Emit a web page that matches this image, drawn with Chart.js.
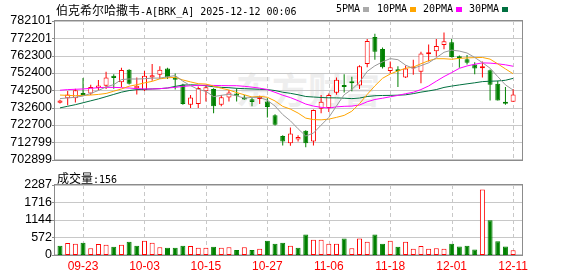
<!DOCTYPE html>
<html><head><meta charset="utf-8">
<script src="https://cdn.jsdelivr.net/npm/chart.js@4.4.1/dist/chart.umd.min.js"></script>
<style>
html,body{margin:0;padding:0;background:#fff;width:578px;height:276px;overflow:hidden;position:relative}
canvas{position:absolute;left:0}
#c1{top:0}
#c2{top:170px}
.t{position:absolute;white-space:nowrap;color:#000;line-height:1}
.cjk{font-family:"Noto Sans CJK SC";font-size:12px}
.lat{font-family:"DejaVu Sans Mono";font-size:10px}
.sq{position:absolute;width:6px;height:5px}
#wm{position:absolute;left:236px;top:70px;font-family:"Noto Sans CJK SC";font-size:36px;font-weight:bold;color:#eeeeee;line-height:1;white-space:nowrap}
</style></head><body>
<div id="wm">东方财富</div>
<canvas id="c1" width="578" height="170"></canvas>
<canvas id="c2" width="578" height="106"></canvas>
<div class="t" style="left:56px;top:2px"><span class="cjk">伯克希尔哈撒韦</span><span class="lat">-A[BRK_A] 2025-12-12 00:06</span></div>
<div class="t lat" style="left:336px;top:4px">5PMA</div><div class="sq" style="left:363px;top:7px;background:#aaaaaa"></div>
<div class="t lat" style="left:377px;top:4px">10PMA</div><div class="sq" style="left:410px;top:7px;background:#ffa500"></div>
<div class="t lat" style="left:423px;top:4px">20PMA</div><div class="sq" style="left:456px;top:7px;background:#ff00ff"></div>
<div class="t lat" style="left:469px;top:4px">30PMA</div><div class="sq" style="left:502px;top:7px;background:#007040"></div>
<div class="t" style="left:57px;top:170px"><span class="cjk">成交量</span><span class="lat">:156</span></div>
<script>
const dates = ['09-18','09-19','09-22','09-23','09-24','09-25','09-26','09-29','09-30','10-01','10-02','10-03','10-06','10-07','10-08','10-09','10-10','10-13','10-14','10-15','10-16','10-17','10-20','10-21','10-22','10-23','10-24','10-27','10-28','10-29','10-30','10-31','11-03','11-04','11-05','11-06','11-07','11-10','11-11','11-12','11-13','11-14','11-17','11-18','11-19','11-20','11-21','11-24','11-25','11-26','11-28','12-01','12-02','12-03','12-04','12-05','12-08','12-09','12-10','12-11'];
const opens  = [735350,737918,737918,740485,740668,743785,745068,750752,747085,754235,743601,742501,749835,751302,754969,749835,745801,734252,734619,741951,743235,734252,738285,740668,738285,737368,737552,736085,728202,716284,712251,714267,719401,713167,731868,732419,741035,745251,747085,745251,757534,772934,766151,753502,753868,749835,754969,753135,763034,764867,768351,770001,761751,760284,757168,755152,753868,746168,735352,735902];
const highs  = [737100,742134,743418,749468,745618,748368,753135,751668,755335,754500,749835,753502,757534,756251,755335,752035,746168,739752,744701,745251,743600,739752,742501,743601,739752,738468,739385,737918,728752,716834,721235,716834,719584,731502,739752,740668,749835,751668,750202,756801,771834,774767,766884,759001,756251,756618,759917,764501,768718,771834,775501,771834,762301,762668,758451,759001,754418,748001,744334,743235];
const lows   = [734900,733886,735535,739500,739752,742501,743235,743418,744334,745800,740118,742134,748001,748918,748918,742868,734252,732419,732419,736085,729302,733335,736085,736085,737001,733335,734619,726918,722335,710967,710784,713167,709867,710967,729302,730035,739935,741218,741951,743235,755702,759917,754969,752218,744334,749468,751302,746535,759001,761751,765968,761201,755335,757168,751668,749835,736635,736635,734252,735902];
const closes = [736630,740118,742501,739752,744334,745251,749835,749468,754052,746168,745068,750752,751118,754235,749835,748552,734619,738285,743785,744151,733335,738468,741218,739385,737185,735718,738468,732969,722702,713167,717751,715734,712251,731135,735902,739752,748552,744334,746535,756251,770734,764501,755702,755702,753318,754969,755335,763584,763768,767801,770551,761568,760834,758268,754969,755885,745618,736635,734802,740118];
const volumes = [301,390,368,402,223,357,335,268,335,435,301,469,402,257,234,234,301,290,234,234,268,234,257,167,257,167,201,469,368,402,301,234,670,502,502,368,368,536,223,536,435,670,368,469,268,435,201,290,201,223,201,368,279,301,179,2143,1138,446,279,156];
const volumeRise = [0,1,1,0,1,1,1,0,1,0,0,1,1,1,0,0,0,1,1,1,0,1,1,0,1,0,1,0,0,0,1,0,0,1,1,1,1,0,1,1,1,0,0,1,0,1,1,1,1,1,1,0,0,0,0,1,0,0,0,1];
const ma5  = [737735,738101,738468,739201,740668,742391,744335,745728,748588,748954,748918,749101,749431,749468,750201,750898,747671,745105,743015,741878,738835,739605,740191,739311,737955,738431,738431,736781,733445,728605,725012,720465,716322,718008,722555,726955,733518,739935,743015,747085,753281,756471,758744,760578,759991,756838,755004,756581,758194,761091,764208,765454,764904,763804,761238,758304,755114,750274,745581,742611];
const ma10 = [739751,739568,739385,739568,739751,740118,740668,741951,743235,744811,745654,746718,747579,749028,749578,749908,748386,747268,746241,746040,744866,743638,742648,741163,739916,738633,739018,738486,736378,733280,731721,729448,726552,725727,725580,725983,726992,728128,730512,734820,740118,744995,749339,751796,753538,755059,755738,757663,759386,760541,760523,760229,760743,760999,761164,761256,760284,757589,754711,751943];
const ma20 = [742501,742868,743051,743235,743601,743968,744151,744151,743968,743785,743418,743235,743235,743418,743785,744151,744701,745068,745251,745425,745260,745178,745114,745095,744747,744271,743702,742877,741310,739660,738294,736543,734600,733445,732748,732308,733005,733307,733445,734050,735920,737221,737946,738761,739559,740521,741365,742896,744949,747680,750321,752612,755041,756398,757351,758158,758011,757626,757040,756233];
const ma30 = [732418,733335,734251,735351,736451,737551,738835,740118,741401,742318,742868,743051,743235,743418,743785,744701,745435,745618,745435,745068,744518,744151,743968,743601,743418,743235,743051,742868,742318,741383,740741,739935,738926,738633,738358,738175,738138,737955,737716,738046,738908,739366,739513,739568,739678,739898,740576,741420,742098,742886,744115,744885,745545,746168,746755,747433,747671,747799,748203,749285];
const priceTicks = [702899,712799,722700,732600,742500,752400,762300,772201,782101];
const volumeTicks = [0,572,1144,1716,2287];
const labelIndex = [3,11,19,27,35,43,51,59];

const RED = '#ff0000', GRN = '#008000';
const X_MIN = -0.651, X_MAX = 60.156;
const rise = closes.map((c, i) => c >= opens[i]);
const pts = arr => arr.map((v, i) => ({x: i, y: v}));

// grid lines and frame, placed through the chart's own scales
const gridPlugin = {id: 'gridframe',
  beforeDatasetsDraw(ch) {
    const a = ch.chartArea, c = ch.ctx, ys = ch.scales.y, xs = ch.scales.x;
    const L = Math.round(a.left), R = Math.round(a.right), T = Math.round(a.top), B = Math.round(a.bottom);
    c.save();
    c.fillStyle = '#c8c8c8';
    ys.ticks.forEach(t => { const y = Math.round(ys.getPixelForValue(t.value)); c.fillRect(L, Math.min(y, B - 1), R - L, 1); });
    xs.ticks.forEach(t => {
      const x = Math.round(xs.getPixelForValue(t.value));
      for (let y = T; y < B; y += 7) c.fillRect(x, y, 1, Math.min(4, B - y));
    });
    c.restore();
  },
  afterDraw(ch) {
    const a = ch.chartArea, c = ch.ctx, ys = ch.scales.y;
    const L = Math.round(a.left), R = Math.round(a.right), T = Math.round(a.top), B = Math.round(a.bottom);
    c.save();
    c.fillStyle = '#8c8c8c';
    c.fillRect(L - 1, T - 1, R - L + 2, 1);
    c.fillRect(L - 1, B, R - L + 2, 1);
    c.fillRect(L - 1, T - 1, 1, B - T + 2);
    c.fillRect(R, T - 1, 1, B - T + 2);
    ys.ticks.forEach(t => { const y = Math.round(ys.getPixelForValue(t.value)); c.fillRect(L - 3, Math.min(y, B), 2, 1); });
    c.restore();
  }
};

function xScale(show) {
  return {type: 'linear', min: X_MIN, max: X_MAX, offset: false,
    afterBuildTicks(s) { s.ticks = labelIndex.map(v => ({value: v})); },
    ticks: {display: show, autoSkip: false, maxRotation: 0, color: RED, padding: 4,
      font: {family: 'Liberation Sans', size: 12}, callback: v => dates[v]},
    grid: {display: false, drawTicks: false},
    border: {display: false},
    afterFit(s) { s.height = show ? 21 : 0; }};
}
function yScale(min, max, ticks) {
  return {position: 'left', min, max,
    afterBuildTicks(s) { s.ticks = ticks.map(v => ({value: v})); },
    ticks: {color: '#000', padding: 3, autoSkip: false, font: {family: 'Liberation Sans', size: 12.5}, callback: v => String(v)},
    grid: {display: false, drawTicks: false},
    border: {display: false},
    afterFit(s) { s.width = 55; }};
}
const common = {responsive: false, animation: false, devicePixelRatio: 1,
  plugins: {legend: {display: false}, tooltip: {enabled: false}},
  events: []};

const line = (data, color) => ({type: 'line', data: pts(data), borderColor: color, borderWidth: 1,
  pointRadius: 0, tension: 0, order: 1});

new Chart(document.getElementById('c1'), {
  type: 'bar',
  data: {datasets: [
    {data: closes.map((c, i) => ({x: i, y: [lows[i], highs[i]]})),
     backgroundColor: rise.map(u => u ? RED : GRN), barThickness: 1, grouped: false, order: 5, inflateAmount: 0},
    {data: closes.map((c, i) => ({x: i, y: [opens[i], c]})),
     backgroundColor: rise.map(u => u ? '#ffffff' : GRN), borderColor: rise.map(u => u ? RED : GRN),
     borderWidth: 1, borderSkipped: false, barThickness: 5, grouped: false, order: 4, minBarLength: 2, inflateAmount: 0},
    line(ma5, '#999999'), line(ma10, '#ffa500'), line(ma20, '#ff00ff'), line(ma30, '#007040')
  ]},
  options: Object.assign({}, common, {
    layout: {padding: {left: 0, right: 56, top: 21, bottom: 4}},
    scales: {x: xScale(false), y: yScale(702899, 782101, priceTicks)}
  }),
  plugins: [gridPlugin]
});

new Chart(document.getElementById('c2'), {
  type: 'bar',
  data: {datasets: [
    {data: pts(volumes),
     backgroundColor: volumeRise.map(u => u ? '#ffffff' : GRN), borderColor: volumeRise.map(u => u ? RED : GRN),
     borderWidth: 1, borderSkipped: false, barThickness: 5, grouped: false, inflateAmount: 0}
  ]},
  options: Object.assign({}, common, {
    layout: {padding: {left: 0, right: 56, top: 15, bottom: 0}},
    scales: {x: xScale(true), y: yScale(0, 2287, volumeTicks)}
  }),
  plugins: [gridPlugin]
});
</script>
</body></html>
